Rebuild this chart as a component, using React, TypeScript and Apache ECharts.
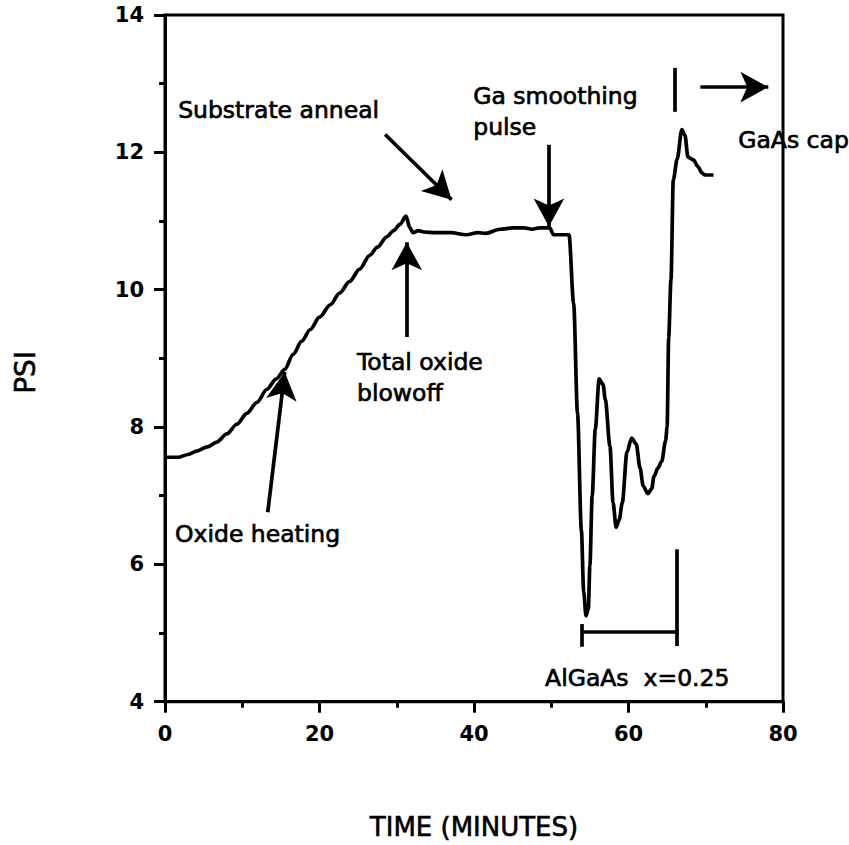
import React, { useEffect, useRef } from "react";
import * as echarts from "echarts";

// Time (minutes) and pressure (PSI)
const timeMin = [
  0, 1.7, 3, 4.1, 5.5, 6.7, 8, 9.3, 10.6, 11.9, 13.2, 14.4, 15.5, 16.6, 17.7, 18.8, 20, 21.4,
  22.6, 23.9, 25.2, 26.5, 27.5, 28.7, 29.6, 30.4, 31.2, 31.7, 32.1, 32.8, 33.5, 35, 37, 39,
  40.5, 41.5, 43.4, 45, 46.5, 47.5, 48.5, 49.8, 50.3, 52.3, 52.9, 53.4, 53.9, 54.2, 54.5,
  54.8, 55.0, 55.3, 55.7, 56.2, 56.7, 57.0, 57.6, 58.0, 58.4, 58.8, 59.2, 59.8, 60.4, 61.0,
  61.5, 61.9, 62.5, 63.0, 63.3, 63.8, 64.3, 64.8, 65.0, 65.2, 65.5, 65.8, 66.3, 66.9, 67.3,
  67.7, 68.4, 69.0, 69.5, 69.9, 71.0,
];
const psiValues = [
  7.56, 7.56, 7.6, 7.65, 7.71, 7.78, 7.9, 8.04, 8.2, 8.36, 8.55, 8.7, 8.84, 9.06, 9.25, 9.42,
  9.6, 9.78, 9.95, 10.12, 10.3, 10.5, 10.62, 10.77, 10.86, 10.95, 11.07, 10.9, 10.83, 10.86,
  10.84, 10.83, 10.83, 10.8, 10.83, 10.82, 10.88, 10.9, 10.9, 10.88, 10.9, 10.9, 10.8, 10.8,
  9.8, 8.2, 6.5, 5.6, 5.25, 5.35, 5.98, 7.0, 7.97, 8.7, 8.62, 8.4, 7.72, 6.9, 6.54, 6.65,
  6.9, 7.63, 7.84, 7.75, 7.4, 7.14, 7.03, 7.1, 7.28, 7.4, 7.5, 7.8, 8.0, 9.3, 10.15, 11.6,
  11.9, 12.33, 12.25, 11.93, 11.89, 11.79, 11.7, 11.67, 11.67,
];

// Annotation arrows (data coordinates: [time, psi])
const arrowFrom = [
  [13.3, 6.76],
  [31.3, 9.31],
  [28.5, 12.26],
  [49.7, 12.11],
  [69.3, 12.95],
];
const arrowTo = [
  [15.5, 8.8],
  [31.3, 10.69],
  [37.1, 11.31],
  [49.7, 10.92],
  [78.1, 12.95],
];

// Plain marker segments (bracket and cap marker)
const segFrom = [
  [66.0, 13.23],
  [53.9, 5.13],
  [53.9, 5.02],
  [66.3, 6.22],
];
const segTo = [
  [66.0, 12.59],
  [53.9, 4.8],
  [66.3, 5.02],
  [66.3, 4.81],
];

// Annotation texts and their anchors (left edge, vertical middle)
const annotationTexts = [
  "Substrate anneal",
  "Ga smoothing\npulse",
  "Total oxide\nblowoff",
  "Oxide heating",
  "GaAs cap",
  "AlGaAs  x=0.25",
];
const annotationAnchors = [
  [1.7, 12.62],
  [39.9, 12.6],
  [24.85, 8.72],
  [1.3, 6.44],
  [74.2, 12.18],
  [49.2, 4.35],
];

const FONT = '"DejaVu Sans", sans-serif';

export default function App() {
  const ref = useRef<HTMLDivElement>(null);

  useEffect(() => {
    if (!ref.current) return;
    const chart = echarts.init(ref.current, undefined, { renderer: "svg" });

    const axisCommon = {
      type: "value" as const,
      splitLine: { show: false },
      axisLine: { show: true, lineStyle: { color: "#000", width: 3 } },
      axisTick: { show: true, inside: false, length: 11, lineStyle: { color: "#000", width: 3 } },
      minorTick: { show: true, splitNumber: 2, length: 6, lineStyle: { color: "#000", width: 3 } },
      minorSplitLine: { show: false },
      axisLabel: {
        color: "#000",
        fontFamily: FONT,
        fontWeight: "bold" as const,
        fontSize: 21,
      },
      nameLocation: "middle" as const,
    };

    const markData: any[] = [];
    arrowFrom.forEach((f, i) => {
      markData.push([
        { coord: f, symbol: "none" },
        { coord: arrowTo[i], symbol: "arrow", symbolSize: [23, 28] },
      ]);
    });
    segFrom.forEach((f, i) => {
      markData.push([
        { coord: f, symbol: "none" },
        { coord: segTo[i], symbol: "none" },
      ]);
    });

    chart.setOption({
      animation: false,
      grid: {
        left: 165,
        top: 15,
        right: 66,
        bottom: 142,
        show: true,
        borderColor: "#000",
        borderWidth: 3,
        backgroundColor: "transparent",
      },
      xAxis: {
        ...axisCommon,
        min: 0,
        max: 80,
        interval: 20,
        axisLabel: { ...axisCommon.axisLabel, margin: 22 },
        name: "TIME (MINUTES)",
        nameGap: 112,
        nameTextStyle: {
          color: "#000",
          fontFamily: FONT,
          fontSize: 26,
          textBorderColor: "#000",
          textBorderWidth: 0.6,
        },
      },
      yAxis: {
        ...axisCommon,
        min: 4,
        max: 14,
        interval: 2,
        axisLabel: { ...axisCommon.axisLabel, margin: 21 },
        name: "PSI",
        nameRotate: 90,
        nameGap: 126,
        nameTextStyle: {
          color: "#000",
          fontFamily: FONT,
          fontSize: 28,
          padding: [0, 28, 0, 0],
          textBorderColor: "#000",
          textBorderWidth: 0.6,
        },
      },
      series: [
        {
          type: "line",
          data: timeMin.map((t, i) => [t, psiValues[i]]),
          showSymbol: false,
          symbol: "none",
          smooth: 0.3,
          smoothMonotone: "x",
          lineStyle: { color: "#000", width: 3.7 },
          emphasis: { disabled: true },
          silent: true,
          markLine: {
            silent: true,
            animation: false,
            label: { show: false },
            lineStyle: { color: "#000", width: 3.7, type: "solid" },
            emphasis: { disabled: true },
            data: markData,
          },
        },
      ],
    });

    const graphics = annotationTexts.map((txt, i) => {
      const p = chart.convertToPixel({ xAxisIndex: 0, yAxisIndex: 0 }, annotationAnchors[i]) as number[];
      return {
        type: "text",
        x: p[0],
        y: p[1],
        z: 10,
        style: {
          text: txt,
          fill: "#000",
          fontFamily: FONT,
          fontSize: 23.5,
          lineHeight: 31,
          textAlign: "left",
          textVerticalAlign: "middle",
          stroke: "#000",
          lineWidth: 0.7,
        },
      };
    });
    chart.setOption({ graphic: graphics });

    return () => chart.dispose();
  }, []);

  return (
    <div
      ref={ref}
      style={{ position: "fixed", left: 0, top: 0, width: 849, height: 845, background: "#fff" }}
    />
  );
}
